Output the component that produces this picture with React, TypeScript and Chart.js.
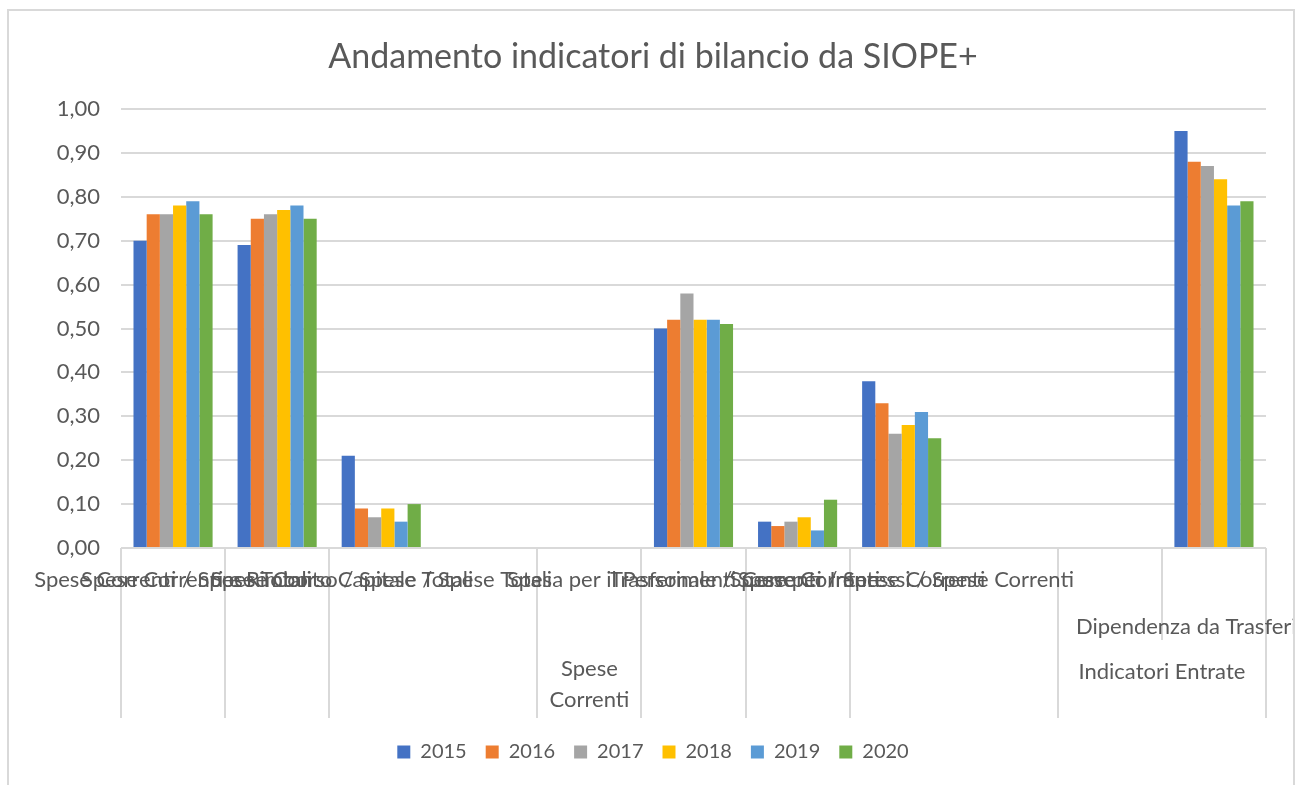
import React, { useEffect, useRef } from "react";
import { Chart, registerables } from "chart.js";

Chart.register(...registerables);

const FONT = "Lato";
const TEXT = "#595959";
const GRID = "#d9d9d9";

const categories = [
  "Spese Correnti / Spese Totali",
  "Spese Correnti e Rimborso / Spese Totali",
  "Spese Conto Capitale / Spese Totali",
  "",
  "",
  "Spesa per il Personale / Spese Correnti",
  "Trasferimenti Correnti / Spese Correnti",
  "Spese per Interessi / Spese Correnti",
  "",
  "",
  "",
];
const subLabels = ["", "", "", "", "", "", "", "", "", "", "Dipendenza da Trasferimenti"];
const groupLabels = [["Spese", "Correnti"], ["Indicatori Entrate"]];
const groupStart = [0, 9];
const groupEnd = [8, 10];
const fullDividers = [0, 1, 2, 4, 5, 6, 7, 9, 11];
const shortDividers = [10];

const years = ["2015", "2016", "2017", "2018", "2019", "2020"];
const colors = ["#4472C4", "#ED7D31", "#A5A5A5", "#FFC000", "#5B9BD5", "#70AD47"];
const v2015 = [0.70, 0.69, 0.21, null, null, 0.50, 0.06, 0.38, null, null, 0.95];
const v2016 = [0.76, 0.75, 0.09, null, null, 0.52, 0.05, 0.33, null, null, 0.88];
const v2017 = [0.76, 0.76, 0.07, null, null, 0.58, 0.06, 0.26, null, null, 0.87];
const v2018 = [0.78, 0.77, 0.09, null, null, 0.52, 0.07, 0.28, null, null, 0.84];
const v2019 = [0.79, 0.78, 0.06, null, null, 0.52, 0.04, 0.31, null, null, 0.78];
const v2020 = [0.76, 0.75, 0.10, null, null, 0.51, 0.11, 0.25, null, null, 0.79];
const series = [v2015, v2016, v2017, v2018, v2019, v2020];

const decorPlugin = {
  id: "decor",
  afterDraw(chart: any) {
    const { ctx } = chart;
    const xs = chart.scales.x;
    const n = categories.length;
    const w = (xs.right - xs.left) / n;
    const base = chart.chartArea.bottom;
    ctx.save();
    ctx.strokeStyle = GRID;
    ctx.lineWidth = 2;
    fullDividers.forEach((k) => {
      const px = Math.round(xs.left + k * w);
      ctx.beginPath();
      ctx.moveTo(px, base);
      ctx.lineTo(px, base + 170);
      ctx.stroke();
    });
    shortDividers.forEach((k) => {
      const px = Math.round(xs.left + k * w);
      ctx.beginPath();
      ctx.moveTo(px, base);
      ctx.lineTo(px, base + 92);
      ctx.stroke();
    });
    ctx.strokeRect(8, 10, 1286, 800);

    ctx.beginPath();
    ctx.rect(9, 0, 1284, 785);
    ctx.clip();
    ctx.fillStyle = TEXT;
    ctx.font = `22px ${FONT}`;
    ctx.textAlign = "center";
    ctx.textBaseline = "middle";
    categories.forEach((c, i) => {
      if (c) ctx.fillText(c, xs.getPixelForValue(i), base + 32);
    });
    subLabels.forEach((c, i) => {
      if (c) ctx.fillText(c, xs.getPixelForValue(i), base + 79);
    });
    groupLabels.forEach((lines, g) => {
      const cx = xs.left + ((groupStart[g] + groupEnd[g] + 1) / 2) * w;
      const y0 = lines.length > 1 ? base + 121 : base + 124;
      lines.forEach((l, j) => ctx.fillText(l, cx, y0 + j * 31));
    });
    ctx.restore();
  },
};

export default function App() {
  const ref = useRef<HTMLCanvasElement | null>(null);
  useEffect(() => {
    if (!ref.current) return;
    const chart = new Chart(ref.current, {
      type: "bar",
      data: {
        labels: categories,
        datasets: years.map((y, i) => ({
          label: y,
          data: series[i],
          backgroundColor: colors[i],
          borderWidth: 0,
          categoryPercentage: 0.76,
          barPercentage: 1.0,
        })),
      },
      options: {
        responsive: false,
        animation: false,
        layout: { padding: { top: 10, left: 0, right: 0, bottom: 13 } },
        plugins: {
          title: {
            display: true,
            text: "Andamento indicatori di bilancio da SIOPE+",
            color: TEXT,
            font: { family: FONT, size: 34, weight: "normal" },
            padding: { top: 26.6, bottom: 31.6 },
          },
          legend: {
            position: "bottom",
            labels: {
              boxWidth: 13,
              boxHeight: 13,
              padding: 19,
              color: TEXT,
              font: { family: FONT, size: 20 },
            },
          },
          tooltip: { enabled: false },
        },
        scales: {
          x: {
            grid: { display: false },
            border: { display: false },
            ticks: { display: false },
            afterFit: (s: any) => {
              s.height = 175;
            },
          },
          y: {
            min: 0,
            max: 1,
            ticks: {
              stepSize: 0.1,
              padding: 21,
              color: TEXT,
              font: { family: FONT, size: 22 },
              callback: (v: any) => Number(v).toFixed(2).replace(".", ","),
            },
            grid: { color: GRID, lineWidth: 2, drawTicks: false },
            border: { display: false },
            afterFit: (s: any) => {
              s.width = 121;
            },
          },
          yRight: {
            position: "right",
            display: true,
            grid: { display: false },
            border: { display: false },
            ticks: { display: false },
            afterFit: (s: any) => {
              s.width = 40;
            },
          },
        },
      },
      plugins: [decorPlugin],
    });
    return () => chart.destroy();
  }, []);
  return (
    <div style={{ position: "fixed", left: 0, top: 0, width: 1306, height: 785, background: "#fff" }}>
      <canvas ref={ref} width={1306} height={785} style={{ display: "block" }} />
    </div>
  );
}
